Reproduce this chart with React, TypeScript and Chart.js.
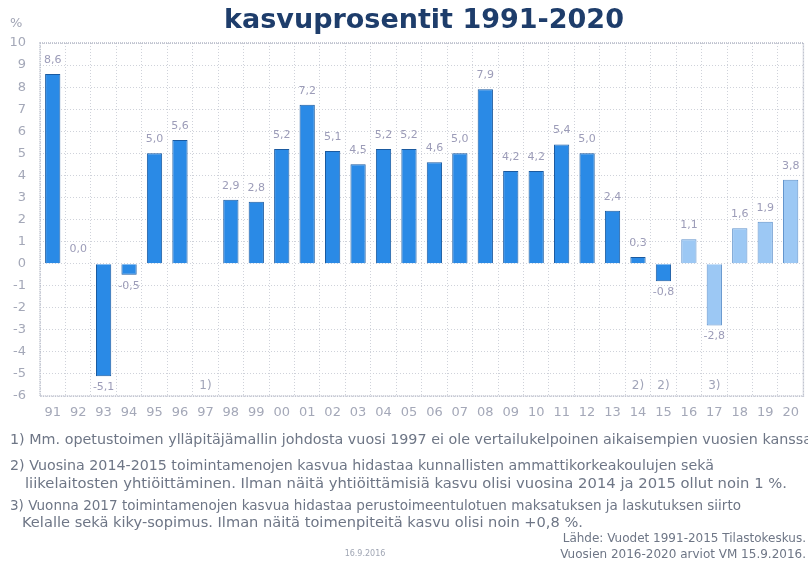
import React, { useEffect, useRef } from "react";
import { Chart, registerables } from "chart.js";

Chart.register(...registerables);

const years = ["91","92","93","94","95","96","97","98","99","00","01","02","03","04","05","06","07","08","09","10","11","12","13","14","15","16","17","18","19","20"];
const growth: (number | null)[] = [8.6, 0.0, -5.1, -0.5, 5.0, 5.6, null, 2.9, 2.8, 5.2, 7.2, 5.1, 4.5, 5.2, 5.2, 4.6, 5.0, 7.9, 4.2, 4.2, 5.4, 5.0, 2.4, 0.3, -0.8, 1.1, -2.8, 1.6, 1.9, 3.8];
const footMarks = ["", "", "", "", "", "", "1)", "", "", "", "", "", "", "", "", "", "", "", "", "", "", "", "", "2)", "2)", "", "3)", "", "", ""];
const forecastFrom = "16";
const yTicks = { min: -6, max: 10, step: 1 };

const titleText = "kasvuprosentit 1991-2020";
const notes = [
  "1) Mm. opetustoimen ylläpitäjämallin johdosta vuosi 1997 ei ole vertailukelpoinen aikaisempien vuosien kanssa",
  "2) Vuosina 2014-2015 toimintamenojen kasvua hidastaa kunnallisten ammattikorkeakoulujen sekä",
  "liikelaitosten yhtiöittäminen. Ilman näitä yhtiöittämisiä kasvu olisi vuosina 2014 ja 2015 ollut noin 1 %.",
  "3) Vuonna 2017 toimintamenojen kasvua hidastaa perustoimeentulotuen maksatuksen ja laskutuksen siirto",
  "Kelalle sekä kiky-sopimus. Ilman näitä toimenpiteitä kasvu olisi noin +0,8 %.",
];
const sourceLines = ["Lähde: Vuodet 1991-2015 Tilastokeskus.", "Vuosien 2016-2020 arviot VM 15.9.2016."];
const dateStamp = "16.9.2016";

const FONT = "'DejaVu Sans', Verdana, sans-serif";

export default function App() {
  const ref = useRef<HTMLCanvasElement>(null);
  useEffect(() => {
    const canvas = ref.current!;
    const fIdx = years.indexOf(forecastFrom);
    const bg = years.map((_, i) => (i >= fIdx ? "#9cc8f4" : "#2a8ae6"));
    const bd = years.map((_, i) => (i >= fIdx ? "#5f92cc" : "#1a5aa0"));

    const overlay = {
      id: "overlay",
      afterDraw(chart: any) {
        const ctx = chart.ctx as CanvasRenderingContext2D;
        const area = chart.chartArea;
        const xs = chart.scales.x;
        const ys = chart.scales.y;
        ctx.save();
        // border
        ctx.strokeStyle = "#b4b8c6";
        ctx.setLineDash([1, 1]);
        ctx.lineWidth = 1.5;
        ctx.strokeRect(area.left, area.top, area.right - area.left, area.bottom - area.top);
        ctx.setLineDash([]);
        // title
        ctx.fillStyle = "#1e3d6b";
        ctx.font = `bold 27px ${FONT}`;
        ctx.textAlign = "center";
        ctx.textBaseline = "alphabetic";
        ctx.fillText(titleText, 424, 28);
        // percent sign
        ctx.fillStyle = "#a0a4b4";
        ctx.font = `13px ${FONT}`;
        ctx.textAlign = "left";
        ctx.fillText("%", 10, 27);
        // data labels
        const meta = chart.getDatasetMeta(0);
        ctx.font = `11px ${FONT}`;
        ctx.fillStyle = "#9c9cb8";
        ctx.textAlign = "center";
        ctx.textBaseline = "middle";
        meta.data.forEach((el: any, i: number) => {
          const v = growth[i];
          if (v === null) return;
          const txt = v.toFixed(1).replace(".", ",");
          const y = v < 0 ? el.y + 11 : el.y - 14;
          ctx.fillText(txt, el.x, y);
        });
        // footnote marks
        ctx.font = `12px ${FONT}`;
        ctx.fillStyle = "#a0a4b8";
        footMarks.forEach((m, i) => {
          if (!m) return;
          ctx.fillText(m, xs.getPixelForValue(i), ys.getPixelForValue(-5.55));
        });
        // notes
        ctx.fillStyle = "#6e7686";
        ctx.font = `14px ${FONT}`;
        ctx.textAlign = "left";
        const noteY = [440, 466, 484, 506, 523];
        const noteX = [10, 10, 25, 10, 22];
        const noteEnd = [812, 714, 787, 741, 583];
        notes.forEach((n, i) => {
          const w = ctx.measureText(n).width;
          const sx = (noteEnd[i] - noteX[i]) / w;
          ctx.save();
          ctx.translate(noteX[i], noteY[i]);
          ctx.scale(sx, 1);
          ctx.fillText(n, 0, 0);
          ctx.restore();
        });
        ctx.font = `12px ${FONT}`;
        ctx.textAlign = "right";
        ctx.fillText(sourceLines[0], 806, 539);
        ctx.fillText(sourceLines[1], 806, 555);
        ctx.font = `8px ${FONT}`;
        ctx.fillStyle = "#a0a6b4";
        ctx.textAlign = "center";
        ctx.fillText(dateStamp, 365, 554);
        ctx.restore();
      },
    };

    const chart = new Chart(canvas, {
      type: "bar",
      data: {
        labels: years,
        datasets: [
          {
            data: growth,
            backgroundColor: bg,
            borderColor: bd,
            borderWidth: 1,
            barPercentage: 0.6,
            categoryPercentage: 1,
          },
        ],
      },
      options: {
        responsive: false,
        animation: false,
        layout: { padding: { left: 0, right: 4, top: 43, bottom: 140 } },
        plugins: { legend: { display: false }, tooltip: { enabled: false }, title: { display: false } },
        scales: {
          x: {
            grid: { color: "#cfd2da", tickLength: 0, lineWidth: 1 },
            border: { display: false, dash: [1, 2] },
            ticks: { color: "#a4a8b8", font: { family: FONT, size: 13 }, padding: 9, maxRotation: 0, autoSkip: false },
            afterFit: (s: any) => { s.height = 30; },
          },
          y: {
            min: yTicks.min,
            max: yTicks.max,
            grid: { color: "#cfd2da", tickLength: 0 },
            border: { display: false, dash: [1, 2] },
            ticks: { stepSize: yTicks.step, color: "#a4a8b8", font: { family: FONT, size: 13 }, padding: 14 },
            afterFit: (s: any) => { s.width = 40; },
          },
        },
      },
      plugins: [overlay],
    } as any);
    return () => chart.destroy();
  }, []);
  return (
    <div style={{ position: "fixed", left: 0, top: 0, width: 808, height: 566, background: "#fff" }}>
      <canvas ref={ref} width={808} height={566} style={{ display: "block" }} />
    </div>
  );
}
